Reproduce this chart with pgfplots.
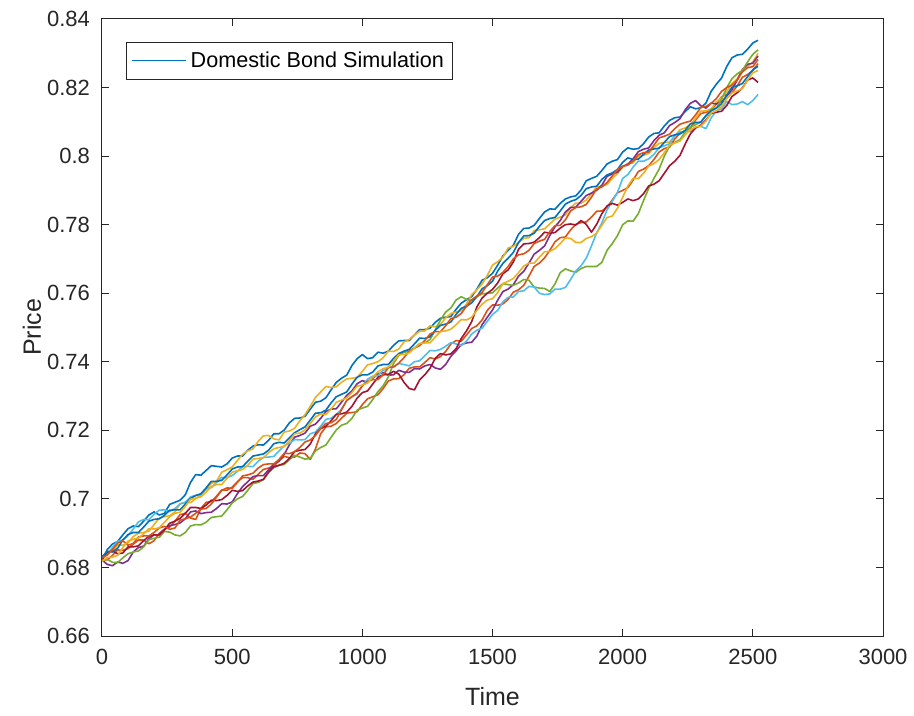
\documentclass[border=0pt]{standalone}
\usepackage{fontspec}
\setmainfont{Liberation Sans}
\usepackage{pgfplots}
\usepackage{pgfplotstable}
\pgfplotsset{compat=1.18}
\definecolor{c1}{RGB}{0,114,189}
\definecolor{c2}{RGB}{217,83,25}
\definecolor{c3}{RGB}{237,177,32}
\definecolor{c4}{RGB}{126,47,142}
\definecolor{c5}{RGB}{119,172,48}
\definecolor{c6}{RGB}{77,190,238}
\definecolor{c7}{RGB}{162,20,47}
\definecolor{axc}{RGB}{38,38,38}
\pgfplotstableread{
t s1 s2 s3 s4 s5 s6 s7 s8 s9 s10
0 .6820 .6822 .6832 .6822 .6820 .6830 .6825 .6830 .6828 .6818
20 .6852 .6822 .6845 .6809 .6824 .6838 .6844 .6847 .6836 .6829
40 .6868 .6835 .6848 .6805 .6815 .6858 .6848 .6845 .6852 .6830
60 .6876 .6851 .6866 .6816 .6814 .6877 .6840 .6856 .6871 .6835
80 .6895 .6850 .6865 .6812 .6828 .6880 .6842 .6880 .6878 .6858
100 .6913 .6855 .6872 .6820 .6840 .6893 .6860 .6896 .6865 .6877
120 .6921 .6868 .6890 .6845 .6845 .6912 .6860 .6902 .6870 .6882
140 .6919 .6880 .6900 .6858 .6848 .6933 .6863 .6902 .6889 .6886
160 .6935 .6880 .6902 .6862 .6860 .6940 .6878 .6918 .6892 .6898
180 .6953 .6869 .6906 .6884 .6881 .6939 .6891 .6935 .6892 .6913
200 .6962 .6878 .6925 .6895 .6885 .6955 .6895 .6940 .6902 .6912
220 .6953 .6900 .6944 .6895 .6888 .6967 .6895 .6942 .6915 .6916
240 .6958 .6912 .6948 .6910 .6905 .6968 .6910 .6952 .6920 .6932
260 .6984 .6918 .6951 .6922 .6903 .6963 .6929 .6967 .6911 .6948
280 .6990 .6935 .6962 .6925 .6895 .6972 .6935 .6968 .6915 .6958
300 .6996 .6954 .6986 .6930 .6892 .6985 .6943 .6968 .6938 .6961
320 .7012 .6958 .6990 .6942 .6902 .6990 .6958 .6985 .6942 .6978
340 .7048 .6944 .6989 .6962 .6921 .7006 .6975 .7001 .6947 .6999
360 .7071 .6940 .7001 .6965 .6925 .7010 .6975 .7010 .6958 .7002
380 .7069 .6972 .7012 .6957 .6924 .7012 .6972 .7015 .6970 .7006
400 .7083 .6990 .7028 .6960 .6932 .7030 .6982 .7032 .6972 .7020
420 .7097 .6992 .7045 .6961 .6946 .7033 .6996 .7051 .6985 .7036
440 .7095 .7008 .7052 .6972 .6948 .7048 .6995 .7051 .7005 .7042
460 .7093 .7026 .7078 .6986 .6950 .7063 .6998 .7054 .7025 .7042
480 .7102 .7025 .7085 .6985 .6968 .7062 .7010 .7070 .7032 .7060
500 .7119 .7034 .7093 .6991 .6988 .7068 .7025 .7087 .7031 .7078
520 .7125 .7050 .7112 .7015 .7000 .7080 .7022 .7093 .7048 .7082
540 .7125 .7062 .7130 .7036 .7007 .7095 .7024 .7094 .7067 .7086
560 .7142 .7062 .7140 .7050 .7025 .7095 .7038 .7110 .7070 .7098
580 .7154 .7057 .7146 .7065 .7045 .7094 .7049 .7125 .7075 .7116
600 .7158 .7072 .7168 .7068 .7048 .7110 .7052 .7128 .7090 .7118
620 .7157 .7086 .7184 .7068 .7056 .7121 .7057 .7131 .7100 .7120
640 .7171 .7090 .7185 .7085 .7078 .7122 .7078 .7142 .7102 .7135
660 .7190 .7095 .7175 .7102 .7091 .7124 .7094 .7161 .7102 .7146
680 .7190 .7112 .7172 .7110 .7098 .7140 .7098 .7165 .7115 .7150
700 .7201 .7124 .7195 .7130 .7100 .7155 .7104 .7163 .7133 .7153
720 .7222 .7120 .7198 .7158 .7115 .7162 .7118 .7178 .7132 .7170
740 .7235 .7122 .7206 .7180 .7127 .7173 .7138 .7193 .7138 .7190
760 .7236 .7134 .7228 .7185 .7122 .7172 .7142 .7202 .7150 .7192
780 .7241 .7132 .7246 .7192 .7116 .7173 .7144 .7210 .7166 .7201
800 .7262 .7115 .7270 .7212 .7118 .7190 .7160 .7230 .7172 .7220
820 .7282 .7146 .7296 .7218 .7140 .7195 .7190 .7250 .7185 .7239
840 .7285 .7190 .7312 .7235 .7150 .7212 .7205 .7251 .7205 .7248
860 .7295 .7210 .7328 .7255 .7157 .7232 .7212 .7259 .7220 .7246
880 .7318 .7212 .7325 .7262 .7180 .7235 .7228 .7280 .7222 .7262
900 .7340 .7220 .7327 .7263 .7201 .7246 .7247 .7298 .7232 .7282
920 .7352 .7235 .7340 .7282 .7215 .7262 .7248 .7305 .7260 .7288
940 .7361 .7250 .7350 .7302 .7220 .7287 .7253 .7312 .7287 .7295
960 .7389 .7252 .7352 .7315 .7235 .7298 .7270 .7335 .7298 .7310
980 .7409 .7254 .7354 .7336 .7259 .7305 .7294 .7355 .7309 .7329
1000 .7421 .7275 .7372 .7345 .7265 .7330 .7310 .7362 .7330 .7332
1020 .7409 .7292 .7391 .7340 .7270 .7349 .7315 .7362 .7343 .7338
1040 .7412 .7298 .7395 .7352 .7290 .7358 .7335 .7370 .7348 .7355
1060 .7428 .7304 .7400 .7365 .7313 .7360 .7355 .7388 .7348 .7371
1080 .7425 .7322 .7412 .7368 .7330 .7375 .7362 .7392 .7362 .7380
1100 .7431 .7344 .7431 .7361 .7356 .7384 .7363 .7392 .7383 .7384
1120 .7448 .7350 .7430 .7362 .7395 .7385 .7372 .7410 .7385 .7402
1140 .7461 .7351 .7437 .7375 .7419 .7395 .7364 .7424 .7396 .7421
1160 .7462 .7362 .7458 .7370 .7428 .7392 .7340 .7431 .7412 .7421
1180 .7462 .7381 .7465 .7369 .7430 .7388 .7322 .7436 .7431 .7426
1200 .7478 .7385 .7478 .7380 .7440 .7400 .7318 .7452 .7440 .7440
1220 .7494 .7385 .7489 .7379 .7453 .7403 .7347 .7469 .7447 .7453
1240 .7494 .7398 .7490 .7388 .7455 .7418 .7362 .7468 .7462 .7455
1260 .7498 .7412 .7505 .7392 .7465 .7433 .7381 .7473 .7481 .7455
1280 .7515 .7408 .7502 .7382 .7492 .7432 .7410 .7492 .7488 .7472
1300 .7527 .7415 .7509 .7378 .7522 .7436 .7424 .7506 .7488 .7488
1320 .7530 .7430 .7528 .7392 .7545 .7445 .7420 .7510 .7505 .7490
1340 .7532 .7452 .7541 .7416 .7557 .7456 .7423 .7516 .7526 .7495
1360 .7553 .7462 .7545 .7432 .7580 .7452 .7438 .7538 .7530 .7508
1380 .7571 .7460 .7549 .7450 .7590 .7447 .7468 .7556 .7541 .7523
1400 .7581 .7478 .7568 .7455 .7582 .7460 .7490 .7562 .7562 .7522
1420 .7590 .7497 .7596 .7457 .7579 .7481 .7517 .7572 .7581 .7530
1440 .7612 .7505 .7610 .7475 .7590 .7492 .7560 .7590 .7592 .7550
1460 .7638 .7522 .7627 .7508 .7598 .7498 .7586 .7613 .7602 .7568
1480 .7645 .7550 .7652 .7530 .7600 .7518 .7600 .7622 .7625 .7580
1500 .7658 .7566 .7682 .7551 .7601 .7538 .7611 .7635 .7647 .7584
1520 .7682 .7565 .7692 .7580 .7615 .7550 .7630 .7665 .7650 .7602
1540 .7709 .7569 .7705 .7605 .7628 .7575 .7657 .7687 .7661 .7628
1560 .7725 .7582 .7732 .7612 .7625 .7588 .7668 .7702 .7678 .7635
1580 .7740 .7603 .7737 .7625 .7623 .7589 .7691 .7719 .7700 .7643
1600 .7772 .7610 .7748 .7650 .7630 .7605 .7728 .7748 .7712 .7660
1620 .7789 .7623 .7760 .7664 .7640 .7607 .7744 .7767 .7715 .7679
1640 .7790 .7650 .7762 .7688 .7638 .7620 .7745 .7768 .7725 .7688
1660 .7798 .7678 .7783 .7714 .7618 .7618 .7749 .7775 .7745 .7688
1680 .7818 .7688 .7785 .7725 .7615 .7600 .7762 .7795 .7752 .7705
1700 .7837 .7703 .7788 .7738 .7614 .7596 .7778 .7812 .7757 .7721
1720 .7846 .7725 .7802 .7768 .7605 .7598 .7775 .7818 .7780 .7722
1740 .7845 .7750 .7816 .7794 .7627 .7612 .7777 .7821 .7797 .7730
1760 .7862 .7762 .7822 .7812 .7660 .7612 .7790 .7840 .7798 .7745
1780 .7875 .7764 .7828 .7837 .7671 .7617 .7800 .7860 .7814 .7761
1800 .7881 .7785 .7850 .7850 .7665 .7640 .7802 .7868 .7840 .7760
1820 .7884 .7801 .7863 .7851 .7661 .7665 .7799 .7873 .7850 .7748
1840 .7901 .7806 .7862 .7868 .7672 .7680 .7812 .7885 .7852 .7748
1860 .7928 .7808 .7872 .7885 .7678 .7702 .7801 .7905 .7859 .7760
1880 .7935 .7822 .7890 .7892 .7678 .7738 .7778 .7910 .7880 .7765
1900 .7941 .7839 .7911 .7900 .7678 .7776 .7801 .7912 .7904 .7775
1920 .7958 .7840 .7912 .7915 .7690 .7805 .7832 .7932 .7910 .7798
1940 .7977 .7851 .7917 .7941 .7725 .7843 .7855 .7945 .7923 .7821
1960 .7985 .7872 .7935 .7948 .7745 .7868 .7862 .7951 .7942 .7825
1980 .7990 .7893 .7949 .7953 .7768 .7894 .7857 .7961 .7961 .7848
2000 .8012 .7900 .7968 .7970 .7800 .7935 .7865 .7982 .7970 .7880
2020 .8024 .7908 .7979 .7976 .7811 .7946 .7875 .7995 .7974 .7913
2040 .8020 .7930 .7980 .7992 .7810 .7968 .7870 .7990 .7985 .7935
2060 .8022 .7955 .8000 .8013 .7832 .7985 .7875 .7991 .8004 .7934
2080 .8036 .7962 .8002 .8020 .7870 .7985 .7890 .8005 .8010 .7950
2100 .8056 .7972 .8008 .8024 .7906 .7992 .7913 .8018 .8012 .7971
2120 .8066 .7990 .8025 .8045 .7935 .8005 .7918 .8021 .8032 .7978
2140 .8068 .8012 .8037 .8061 .7962 .8025 .7928 .8023 .8053 .7990
2160 .8088 .8022 .8040 .8068 .8000 .8030 .7950 .8040 .8058 .8010
2180 .8104 .8026 .8041 .8089 .8029 .8036 .7972 .8057 .8064 .8032
2200 .8112 .8050 .8058 .8098 .8040 .8060 .7985 .8062 .8080 .8038
2220 .8114 .8066 .8077 .8109 .8048 .8071 .8002 .8065 .8093 .8044
2240 .8130 .8072 .8082 .8135 .8070 .8072 .8035 .8075 .8098 .8062
2260 .8144 .8082 .8092 .8154 .8084 .8072 .8065 .8094 .8102 .8077
2280 .8138 .8105 .8110 .8162 .8092 .8085 .8082 .8098 .8120 .8085
2300 .8141 .8124 .8131 .8147 .8099 .8087 .8090 .8099 .8142 .8087
2320 .8155 .8128 .8132 .8140 .8118 .8080 .8105 .8118 .8145 .8102
2340 .8189 .8135 .8138 .8155 .8137 .8112 .8125 .8132 .8154 .8126
2360 .8210 .8152 .8158 .8152 .8140 .8132 .8128 .8140 .8168 .8132
2380 .8228 .8173 .8170 .8158 .8166 .8138 .8131 .8153 .8189 .8145
2400 .8262 .8180 .8188 .8175 .8200 .8160 .8148 .8178 .8200 .8168
2420 .8287 .8185 .8212 .8194 .8226 .8150 .8174 .8201 .8207 .8184
2440 .8295 .8205 .8225 .8222 .8240 .8152 .8185 .8205 .8222 .8190
2460 .8297 .8230 .8253 .8252 .8250 .8159 .8199 .8212 .8246 .8197
2480 .8312 .8238 .8262 .8268 .8275 .8150 .8222 .8232 .8258 .8222
2500 .8330 .8250 .8275 .8271 .8297 .8162 .8228 .8252 .8261 .8243
2520 .8338 .8270 .8300 .8292 .8310 .8180 .8215 .8262 .8282 .8250
}\data
\begin{document}
\begin{tikzpicture}
\begin{axis}[
  scale only axis,
  width=390.5pt, height=308.5pt,
  xmin=0, xmax=3000, ymin=0.66, ymax=0.84,
  xtick={0,500,...,3000},
  ytick={0.66,0.68,...,0.841},
  scaled ticks=false,
  axis line style={axc, line width=0.5pt},
  every tick/.style={axc, line width=0.5pt},
  major tick length=3.5pt,
  tick align=inside,
  /pgf/number format/assume math mode=true,
  /pgf/number format/1000 sep={},
  yticklabel style={/pgf/number format/fixed, /pgf/number format/precision=2, font=\fontsize{11}{13}\selectfont, color=axc, xshift=-2.5pt},
  xticklabel style={font=\fontsize{11}{13}\selectfont, color=axc, yshift=-3pt},
  every axis y label/.style={at={(axis description cs:-0.0896,0.5)}, rotate=90, anchor=center, font=\fontsize{12.5}{15}\selectfont, color=axc},
  every axis x label/.style={at={(axis description cs:0.5,-0.0989)}, anchor=center, font=\fontsize{12.5}{15}\selectfont, color=axc},
  xlabel={Time}, ylabel={Price},
  legend style={at={(0.0307,0.9627)}, anchor=north west, draw=axc, line width=0.5pt, font=\fontsize{10.8}{12}\selectfont, inner sep=2.5pt, row sep=0pt},
  legend cell align=left,
  legend image code/.code={\draw[#1, line width=0.6pt] (0pt,0pt) -- (27pt,0pt);},
  every axis plot/.append style={line width=0.8pt, line join=round},
]
\addplot[c1] table[x=t, y=s1] {\data};
\addlegendentry{Domestic Bond Simulation}
\addplot[c2, forget plot] table[x=t, y=s2] {\data};
\addplot[c3, forget plot] table[x=t, y=s3] {\data};
\addplot[c4, forget plot] table[x=t, y=s4] {\data};
\addplot[c5, forget plot] table[x=t, y=s5] {\data};
\addplot[c6, forget plot] table[x=t, y=s6] {\data};
\addplot[c7, forget plot] table[x=t, y=s7] {\data};
\addplot[c1, forget plot] table[x=t, y=s8] {\data};
\addplot[c2, forget plot] table[x=t, y=s9] {\data};
\addplot[c3, forget plot] table[x=t, y=s10] {\data};
\end{axis}
\pgfresetboundingbox
\path[use as bounding box] ([shift={(-51pt,-40pt)}]current axis.south west) rectangle ([shift={(15.5pt,9.5pt)}]current axis.north east);
\end{tikzpicture}
\end{document}
